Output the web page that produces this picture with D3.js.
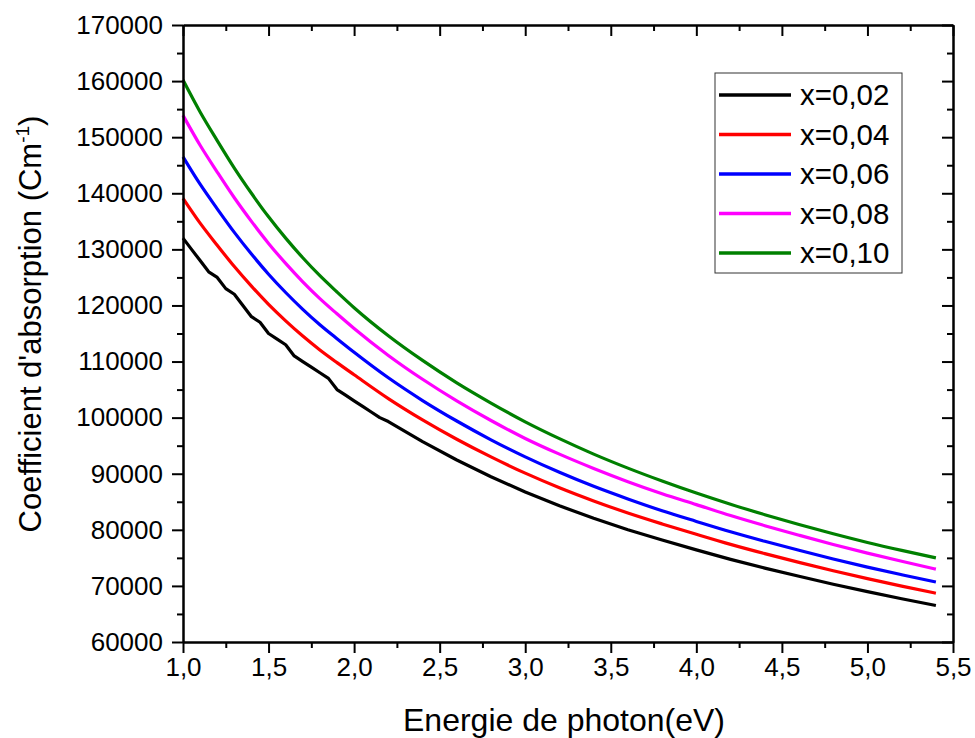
<!DOCTYPE html>
<html>
<head>
<meta charset="utf-8">
<script src="https://cdn.jsdelivr.net/npm/d3@7"></script>
<style>
  body { margin: 0; background: #fff; }
  svg { font-family: "Liberation Sans", Arial, sans-serif; }
</style>
</head>
<body>
<svg width="975" height="738"></svg>
<script>
// photon energy (eV) for the smooth curves
const energy = [1.0, 1.1, 1.2, 1.3, 1.4, 1.5, 1.6, 1.7, 1.8, 1.9, 2.0,
                2.2, 2.4, 2.6, 2.8, 3.0, 3.2, 3.4, 3.6, 3.8, 4.0,
                4.2, 4.4, 4.6, 4.8, 5.0, 5.2, 5.4];

const alpha04 = [139100, 134680, 130730, 126930, 123440, 120190, 117250, 114540, 112060, 109810, 107650,
                 103400, 99600, 96150, 93000, 90100, 87500, 85150, 83000, 81050, 79200,
                 77400, 75750, 74200, 72700, 71300, 69970, 68700];
const alpha06 = [146500, 141610, 137230, 133030, 129170, 125570, 122310, 119310, 116560, 114070, 111650,
                 107100, 103050, 99400, 96050, 93000, 90250, 87750, 85500, 83400, 81500,
                 79650, 77950, 76350, 74800, 73350, 72000, 70700];
const alpha08 = [153900, 148560, 143790, 139200, 134990, 131060, 127500, 124220, 121220, 118510, 115890,
                 111090, 106840, 102990, 99490, 96290, 93490, 90940, 88590, 86440, 84490,
                 82540, 80740, 79040, 77390, 75840, 74390, 72990];
const alpha10 = [160200, 154500, 149400, 144500, 140000, 135800, 132000, 128500, 125300, 122400, 119600,
                 114600, 110200, 106200, 102600, 99250, 96250, 93500, 91000, 88700, 86550,
                 84550, 82700, 80950, 79300, 77750, 76330, 75000];

// x=0,02 has its own (rougher) sampling
const energy02 = [1.0, 1.05, 1.1, 1.15, 1.2, 1.25, 1.3, 1.35, 1.4, 1.45, 1.5, 1.55, 1.6, 1.65,
                  1.7, 1.75, 1.8, 1.85, 1.9, 1.95, 2.0, 2.05, 2.1, 2.15, 2.2,
                  2.4, 2.6, 2.8, 3.0, 3.2, 3.4, 3.6, 3.8, 4.0,
                  4.2, 4.4, 4.6, 4.8, 5.0, 5.2, 5.4];
const alpha02 = [132000, 130000, 128000, 126000, 125000, 123000, 122000, 120000, 118000, 117000, 115000, 114000, 113000, 111000,
                 110000, 109000, 108000, 107000, 105000, 104000, 103000, 102000, 101000, 100000, 99300,
                 95710, 92450, 89470, 86730, 84280, 82060, 80020, 78180, 76430,
                 74730, 73170, 71710, 70290, 68970, 67710, 66510];

const seriesNames = ["x=0,02", "x=0,04", "x=0,06", "x=0,08", "x=0,10"];
const seriesColors = ["#000000", "#ff0000", "#0000ff", "#ff00ff", "#008000"];

const xTicks = [1.0, 1.5, 2.0, 2.5, 3.0, 3.5, 4.0, 4.5, 5.0, 5.5];
const yTicks = [60000, 70000, 80000, 90000, 100000, 110000, 120000, 130000, 140000, 150000, 160000, 170000];

const series = [
  {x: energy02, y: alpha02},
  {x: energy, y: alpha04},
  {x: energy, y: alpha06},
  {x: energy, y: alpha08},
  {x: energy, y: alpha10}
];

var svg = d3.select("svg");
var pL = 183, pR = 953, pT = 25, pB = 642;

var x = d3.scaleLinear().domain([1.0, 5.5]).range([pL, pR]);
var y = d3.scaleLinear().domain([60000, 170000]).range([pB, pT]);

var fmtX = function(d) { return d3.format(".1f")(d).replace(".", ","); };
var xMinor = d3.range(1.25, 5.5, 0.5);
var yMinor = d3.range(65000, 170000, 10000);

// data lines
var line = d3.line().x(function(d) { return x(d[0]); }).y(function(d) { return y(d[1]); });
series.forEach(function(s, i) {
  var pts = s.x.map(function(e, j) { return [e, s.y[j]]; });
  svg.append("path")
    .datum(pts)
    .attr("fill", "none")
    .attr("stroke", seriesColors[i])
    .attr("stroke-width", 3.2)
    .attr("stroke-linejoin", "round")
    .attr("d", i == 0 ? line.curve(d3.curveLinear)(pts) : line.curve(d3.curveMonotoneX)(pts));
});

function styleAxis(g) {
  g.selectAll(".domain").attr("stroke-width", 2);
  g.selectAll(".tick line").attr("stroke-width", 2);
  g.selectAll("text").attr("font-size", 26).attr("fill", "#000")
    .attr("font-family", "'Liberation Sans', Arial, sans-serif");
}

// bottom
svg.append("g").attr("transform", "translate(0," + pB + ")")
  .call(d3.axisBottom(x).tickValues(xTicks).tickFormat(fmtX).tickSize(11).tickSizeOuter(0).tickPadding(5))
  .call(styleAxis);
svg.append("g").attr("transform", "translate(0," + pB + ")")
  .call(d3.axisBottom(x).tickValues(xMinor).tickFormat("").tickSize(6).tickSizeOuter(0))
  .call(styleAxis);
// top (ticks inward)
svg.append("g").attr("transform", "translate(0," + pT + ")")
  .call(d3.axisBottom(x).tickValues(xTicks).tickFormat("").tickSize(11).tickSizeOuter(0))
  .call(styleAxis);
svg.append("g").attr("transform", "translate(0," + pT + ")")
  .call(d3.axisBottom(x).tickValues(xMinor).tickFormat("").tickSize(6).tickSizeOuter(0))
  .call(styleAxis);
// left
svg.append("g").attr("transform", "translate(" + pL + ",0)")
  .call(d3.axisLeft(y).tickValues(yTicks).tickFormat(d3.format("d")).tickSize(11).tickSizeOuter(0).tickPadding(9))
  .call(styleAxis);
svg.append("g").attr("transform", "translate(" + pL + ",0)")
  .call(d3.axisLeft(y).tickValues(yMinor).tickFormat("").tickSize(6).tickSizeOuter(0))
  .call(styleAxis);
// right (ticks inward)
svg.append("g").attr("transform", "translate(" + pR + ",0)")
  .call(d3.axisLeft(y).tickValues(yTicks).tickFormat("").tickSize(11).tickSizeOuter(0))
  .call(styleAxis);
svg.append("g").attr("transform", "translate(" + pR + ",0)")
  .call(d3.axisLeft(y).tickValues(yMinor).tickFormat("").tickSize(6).tickSizeOuter(0))
  .call(styleAxis);

// axis titles
svg.append("text")
  .attr("x", 564).attr("y", 731)
  .attr("text-anchor", "middle")
  .attr("font-size", 32)
  .text("Energie de photon(eV)");

var yt = svg.append("text")
  .attr("transform", "translate(41,324) rotate(-90)")
  .attr("text-anchor", "middle")
  .attr("font-size", 31);
yt.append("tspan").text("Coefficient d'absorption (Cm");
yt.append("tspan").attr("font-size", 19).attr("dy", -12).text("-1");
yt.append("tspan").attr("dy", 12).text(")");

// legend
var lg = svg.append("g");
lg.append("rect")
  .attr("x", 715).attr("y", 73).attr("width", 187).attr("height", 200)
  .attr("fill", "#fff").attr("stroke", "#333").attr("stroke-width", 1);
seriesNames.forEach(function(name, i) {
  var ly = 95 + i * 39.5;
  lg.append("line")
    .attr("x1", 719).attr("x2", 791).attr("y1", ly).attr("y2", ly)
    .attr("stroke", seriesColors[i]).attr("stroke-width", 3.5);
  lg.append("text")
    .attr("x", 800).attr("y", ly + 10)
    .attr("font-size", 29.5)
    .text(name);
});
</script>
</body>
</html>
